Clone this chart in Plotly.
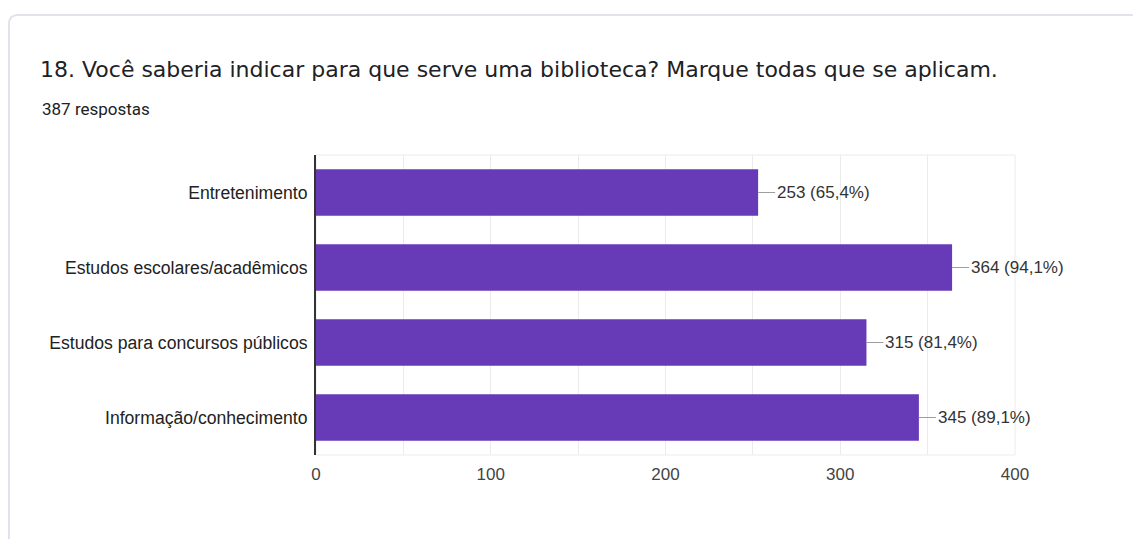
import plotly.graph_objects as go

# Responses per option (387 respondents, multiple choice)
categories = [
    "Entretenimento",
    "Estudos escolares/acadêmicos",
    "Estudos para concursos públicos",
    "Informação/conhecimento",
]
counts = [253, 364, 315, 345]
percent_labels = ["65,4%", "94,1%", "81,4%", "89,1%"]
x_ticks = [0, 100, 200, 300, 400]

title_text = "18. Você saberia indicar para que serve uma biblioteca? Marque todas que se aplicam."
subtitle_text = "387 respostas"

FIG_W, FIG_H = 1133, 539
L, T, PW, PH = 316, 155, 699, 300
R = FIG_W - L - PW
B = FIG_H - T - PH

BAR_COLOR = "#673ab7"
LABEL_FONT = "Liberation Sans, Arial, sans-serif"


def px_x(px):
    return (px - L) / PW


def px_y(py):
    return (T + PH - py) / PH


fig = go.Figure()
fig.add_trace(
    go.Bar(
        x=counts,
        y=categories,
        orientation="h",
        width=0.62,
        marker=dict(color=BAR_COLOR, line=dict(width=0)),
        hoverinfo="skip",
    )
)

shapes = []
annotations = []

# card outline with rounded top-left corner
r = 9
cx0, cy0 = 9, 15
card_path = (
    f"M {px_x(cx0)} {px_y(FIG_H + 20)} "
    f"L {px_x(cx0)} {px_y(cy0 + r)} "
    f"Q {px_x(cx0)} {px_y(cy0)} {px_x(cx0 + r)} {px_y(cy0)} "
    f"L {px_x(FIG_W + 20)} {px_y(cy0)}"
)
shapes.append(dict(type="path", xref="paper", yref="paper", path=card_path,
                   line=dict(color="#e2e2ec", width=2), layer="below"))

# faint frame around plotting area
shapes.append(dict(type="rect", xref="paper", yref="paper", x0=0, x1=1, y0=0, y1=1,
                   line=dict(color="#ececec", width=1), layer="below"))

# value labels with short leader lines
for cat, v, pct in zip(categories, counts, percent_labels):
    shapes.append(dict(type="line", xref="x", yref="y", xsizemode="pixel", xanchor=v,
                       x0=0, x1=17, y0=cat, y1=cat,
                       line=dict(color="#9e9e9e", width=1)))
    annotations.append(dict(x=v, y=cat, xref="x", yref="y", xanchor="left", yanchor="middle",
                            xshift=17, showarrow=False, text=f"{v} ({pct})",
                            font=dict(family=LABEL_FONT, size=17, color="#333333")))

# title and response count
annotations.append(dict(x=px_x(38), y=px_y(69), xref="paper", yref="paper",
                        xanchor="left", yanchor="middle", showarrow=False, text=title_text,
                        font=dict(family="DejaVu Sans, sans-serif", size=22, color="#202124")))
annotations.append(dict(x=px_x(40), y=px_y(109), xref="paper", yref="paper",
                        xanchor="left", yanchor="middle", showarrow=False, text=subtitle_text,
                        font=dict(family="Roboto, sans-serif", size=17, color="#202124")))

fig.update_layout(
    width=FIG_W,
    height=FIG_H,
    margin=dict(l=L, r=R, t=T, b=B, pad=0),
    paper_bgcolor="white",
    plot_bgcolor="white",
    showlegend=False,
    bargap=0.38,
    shapes=shapes,
    annotations=annotations,
    xaxis=dict(
        range=[0, 400],
        tickvals=x_ticks,
        ticktext=[str(t) for t in x_ticks],
        showgrid=True,
        gridcolor="#ebebeb",
        gridwidth=1,
        minor=dict(dtick=50, showgrid=True, gridcolor="#ebebeb", gridwidth=1),
        zeroline=False,
        showline=False,
        ticks="",
        ticklabelstandoff=7,
        tickfont=dict(family=LABEL_FONT, size=17, color="#444444"),
        fixedrange=True,
    ),
    yaxis=dict(
        autorange="reversed",
        showgrid=False,
        zeroline=False,
        showline=True,
        linecolor="#333333",
        linewidth=2,
        ticks="",
        ticklabelstandoff=3,
        tickfont=dict(family=LABEL_FONT, size=17.6, color="#222222"),
        fixedrange=True,
    ),
)

fig.write_html("out.html", config={"displayModeBar": False})
